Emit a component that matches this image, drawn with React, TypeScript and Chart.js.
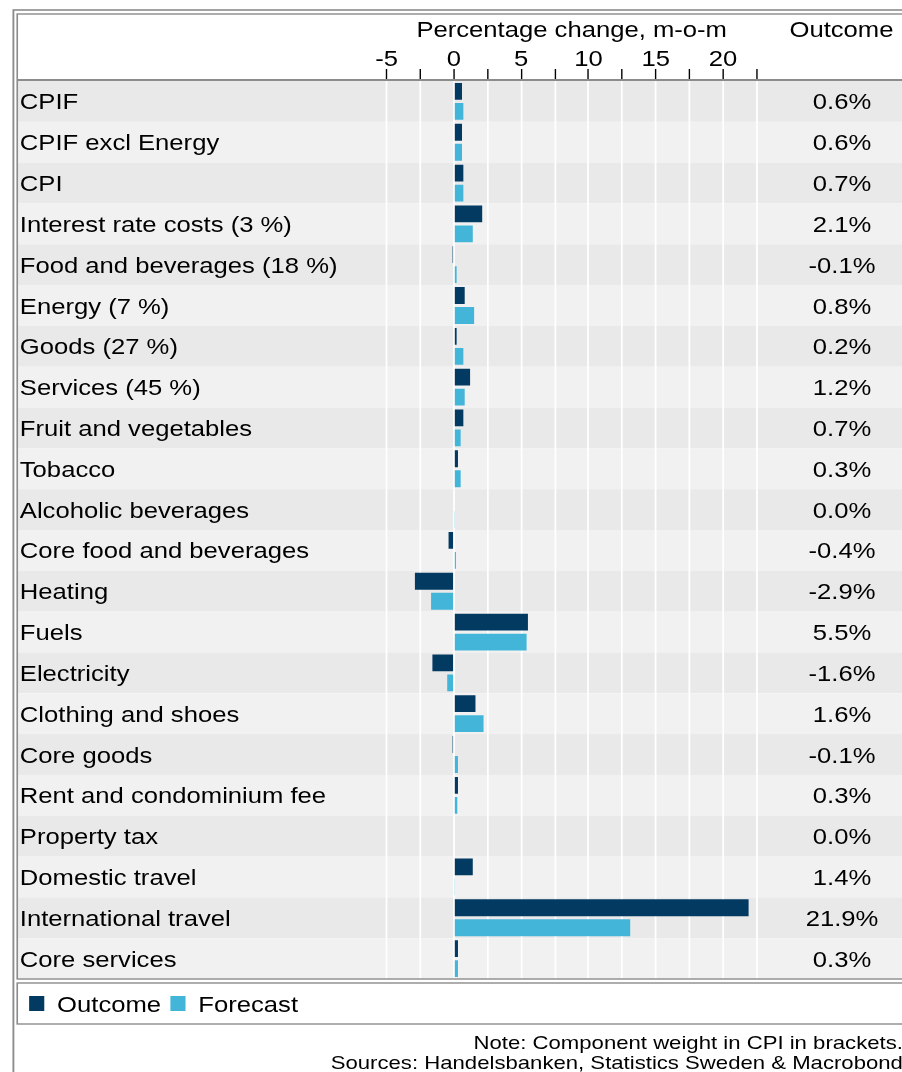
import React, { useEffect, useRef } from 'react';
import { Chart, registerables } from 'chart.js';

Chart.register(...registerables);

// ---------- data ----------
const categories = [
  'CPIF',
  'CPIF excl Energy',
  'CPI',
  'Interest rate costs (3 %)',
  'Food and beverages (18 %)',
  'Energy (7 %)',
  'Goods (27 %)',
  'Services (45 %)',
  'Fruit and vegetables',
  'Tobacco',
  'Alcoholic beverages',
  'Core food and beverages',
  'Heating',
  'Fuels',
  'Electricity',
  'Clothing and shoes',
  'Core goods',
  'Rent and condominium fee',
  'Property tax',
  'Domestic travel',
  'International travel',
  'Core services',
];

const outcome = [0.6, 0.6, 0.7, 2.1, -0.1, 0.8, 0.2, 1.2, 0.7, 0.3, 0.0, -0.4, -2.9, 5.5, -1.6, 1.6, -0.1, 0.3, 0.0, 1.4, 21.9, 0.3];
const forecast = [0.7, 0.6, 0.7, 1.4, 0.2, 1.5, 0.7, 0.8, 0.5, 0.5, 0.05, 0.15, -1.7, 5.4, -0.5, 2.2, 0.3, 0.25, 0.0, 0.05, 13.1, 0.3];

const seriesNames = ['Outcome', 'Forecast'];
const seriesColors = ['#033a62', '#43b5d8'];
const xTickLabels = ['-5', '0', '5', '10', '15', '20'];
const xMin = -5;
const xMax = 22.5;
const xStep = 2.5;
const axisTitle = 'Percentage change, m-o-m';
const outcomeHeader = 'Outcome';
const notes = ['Note: Component weight in CPI in brackets.', 'Sources: Handelsbanken, Statistics Sweden & Macrobond'];
const outcomeLabels = outcome.map((v) => `${v.toFixed(1)}%`);

// ---------- layout (internal units; drawing is stretched horizontally by S) ----------
const S = 1.165;
const WI = 782;
const WS = Math.round(WI * S);
const H = 1072;
const FONT = "'Liberation Sans', Arial, Helvetica, sans-serif";
const BOX_L = 14.8;
const BOX_R = 778;
const TEXT_DY = 2;

Chart.defaults.font.family = FONT;
Chart.defaults.color = '#000';

const framePlugin = {
  id: 'frameAndRows',
  beforeDraw(chart: any) {
    const ctx = chart.ctx as CanvasRenderingContext2D;
    ctx.save();
    ctx.setTransform(S, 0, 0, 1, 0, 0);
    // nudge all text so that cap centres sit on the row centres
    const orig = CanvasRenderingContext2D.prototype.fillText;
    (ctx as any).fillText = function (t: string, x: number, y: number, m?: number) {
      return m === undefined ? orig.call(this, t, x, y + TEXT_DY) : orig.call(this, t, x, y + TEXT_DY, m);
    };
    ctx.fillStyle = '#ffffff';
    ctx.fillRect(0, 0, WI, H);
    const y = chart.scales.y;
    const n = categories.length;
    const rowH = (y.bottom - y.top) / n;
    for (let i = 0; i < n; i++) {
      const c = y.getPixelForValue(i);
      ctx.fillStyle = i % 2 === 0 ? '#e9e9e9' : '#f1f1f1';
      ctx.fillRect(BOX_L, c - rowH / 2, BOX_R - BOX_L, rowH);
    }
  },
  afterDraw(chart: any) {
    const ctx = chart.ctx as CanvasRenderingContext2D;
    const area = chart.chartArea;
    ctx.strokeStyle = '#8c8c8c';
    ctx.lineWidth = 1.6;
    // outer frame
    ctx.strokeRect(11.5, 10, 781 - 11.5, H + 20);
    // table box
    ctx.lineWidth = 1.4;
    ctx.strokeRect(BOX_L, 14, BOX_R - BOX_L, area.bottom - 14);
    // header separator
    ctx.lineWidth = 2;
    ctx.beginPath();
    ctx.moveTo(BOX_L, area.top - 1);
    ctx.lineTo(BOX_R, area.top - 1);
    ctx.stroke();
    // legend box
    ctx.lineWidth = 1.4;
    ctx.strokeRect(BOX_L, 983, BOX_R - BOX_L, 1024 - 983);
    // outcome header
    ctx.fillStyle = '#000';
    ctx.font = `22px ${FONT}`;
    ctx.textAlign = 'center';
    ctx.textBaseline = 'middle';
    ctx.fillText(outcomeHeader, 722.3, 29);
    delete (ctx as any).fillText;
    ctx.restore();
  },
};

export default function App() {
  const ref = useRef<HTMLCanvasElement>(null);

  useEffect(() => {
    const canvas = ref.current;
    if (!canvas) return;
    canvas.width = WI;
    canvas.height = H;
    canvas.style.width = `${WI}px`;
    canvas.style.height = `${H}px`;

    const chart = new Chart(canvas, {
      type: 'bar',
      data: {
        labels: categories,
        datasets: [
          {
            label: seriesNames[0],
            data: outcome,
            backgroundColor: seriesColors[0],
            borderColor: seriesColors[0],
            borderWidth: 0,
            categoryPercentage: 0.98,
            barPercentage: 0.84,
          },
          {
            label: seriesNames[1],
            data: forecast,
            backgroundColor: seriesColors[1],
            borderColor: seriesColors[1],
            borderWidth: 0,
            categoryPercentage: 0.98,
            barPercentage: 0.84,
          },
        ],
      },
      options: {
        indexAxis: 'y',
        responsive: false,
        animation: false,
        devicePixelRatio: 1,
        events: [],
        layout: { padding: { left: 17, right: 7, top: 14, bottom: 0 } },
        plugins: {
          tooltip: { enabled: false },
          legend: {
            display: true,
            position: 'bottom',
            align: 'start',
            title: { display: true, text: '', font: { size: 5.5, lineHeight: 1 }, padding: 0 },
            labels: {
              boxWidth: 13,
              boxHeight: 15,
              padding: 8,
              color: '#000',
              font: { size: 22, family: FONT },
            },
          },
          title: {
            display: true,
            position: 'bottom',
            align: 'end',
            text: notes,
            color: '#000',
            font: { size: 19, lineHeight: 20 / 19, family: FONT, weight: 'normal' },
            padding: { top: 7.5, bottom: 0 },
          },
        },
        scales: {
          x: {
            type: 'linear',
            position: 'top',
            min: xMin,
            max: xMax,
            afterFit(s: any) {
              s.height = 67;
            },
            ticks: {
              stepSize: xStep,
              autoSkip: false,
              maxRotation: 0,
              padding: -2,
              color: '#000',
              font: { size: 22 },
              callback: (v: any) => {
                const s = String(v);
                return xTickLabels.includes(s) ? s : '';
              },
            },
            grid: {
              color: '#ffffff',
              lineWidth: 1.5,
              tickColor: '#000',
              tickWidth: 1.2,
              tickLength: 12,
              drawTicks: true,
            },
            border: { display: false },
            title: {
              display: true,
              text: axisTitle,
              color: '#000',
              font: { size: 22 },
              padding: { top: 1.8, bottom: 0 },
            },
          },
          y: {
            type: 'category',
            position: 'left',
            afterFit(s: any) {
              s.width = 314.9;
            },
            grid: { display: false, drawTicks: false },
            border: { display: false },
            ticks: { crossAlign: 'far', padding: 0, autoSkip: false, color: '#000', font: { size: 22 } },
          },
          y2: {
            type: 'category',
            position: 'right',
            labels: outcomeLabels,
            offset: true,
            afterFit(s: any) {
              s.width = 125.5;
            },
            grid: { display: false, drawTicks: false },
            border: { display: false },
            ticks: { crossAlign: 'center', padding: 42.1, autoSkip: false, color: '#000', font: { size: 22 } },
          },
        },
      },
      plugins: [framePlugin],
    } as any);

    // stretch the drawing horizontally
    canvas.width = WS;
    canvas.height = H;
    canvas.style.width = `${WS}px`;
    canvas.style.height = `${H}px`;
    chart.draw();

    return () => chart.destroy();
  }, []);

  return (
    <div
      style={{
        position: 'absolute',
        left: 0,
        top: 0,
        width: 902,
        height: 1072,
        overflow: 'hidden',
        background: '#fff',
      }}
    >
      <canvas ref={ref} width={WI} height={H} style={{ display: 'block' }} />
    </div>
  );
}
